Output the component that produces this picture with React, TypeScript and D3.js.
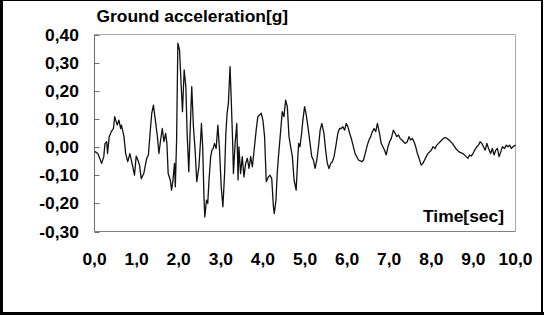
import { useMemo } from 'react'
import * as d3 from 'd3'

// ground acceleration record
const timeSec = [
  0.0, 0.02, 0.08, 0.17, 0.22, 0.25, 0.29, 0.31, 0.35, 0.4, 0.45, 0.48, 0.54, 0.58, 0.62, 0.64, 0.7, 0.74, 0.79, 0.84,
  0.91, 0.95, 0.99, 1.03, 1.07, 1.11, 1.17, 1.24, 1.28, 1.32, 1.36, 1.4, 1.44, 1.49, 1.53, 1.57, 1.61, 1.65, 1.69, 1.72,
  1.75, 1.8, 1.83, 1.86, 1.9, 1.92, 1.95, 1.98, 2.02, 2.06, 2.09, 2.13, 2.17, 2.2, 2.24, 2.27, 2.31, 2.35, 2.39, 2.43,
  2.48, 2.52, 2.54, 2.57, 2.6, 2.62, 2.66, 2.69, 2.72, 2.76, 2.79, 2.82, 2.85, 2.89, 2.93, 2.97, 3.01, 3.05, 3.09, 3.12,
  3.15, 3.18, 3.22, 3.24, 3.28, 3.3, 3.34, 3.38, 3.41, 3.43, 3.47, 3.51, 3.55, 3.59, 3.63, 3.67, 3.71, 3.75, 3.8, 3.84,
  3.88, 3.92, 3.96, 4.0, 4.04, 4.08, 4.13, 4.17, 4.21, 4.25, 4.27, 4.31, 4.34, 4.37, 4.41, 4.46, 4.5, 4.54, 4.58, 4.62,
  4.66, 4.7, 4.74, 4.79, 4.83, 4.85, 4.88, 4.92, 4.95, 4.99, 5.03, 5.07, 5.12, 5.16, 5.2, 5.24, 5.28, 5.32, 5.36, 5.4,
  5.45, 5.49, 5.53, 5.57, 5.61, 5.65, 5.69, 5.73, 5.78, 5.82, 5.86, 5.9, 5.94, 5.98, 6.02, 6.06, 6.11, 6.15, 6.19, 6.27,
  6.35, 6.39, 6.44, 6.48, 6.52, 6.56, 6.6, 6.64, 6.68, 6.72, 6.77, 6.81, 6.85, 6.89, 6.93, 6.97, 7.01, 7.05, 7.1, 7.14,
  7.18, 7.22, 7.26, 7.3, 7.34, 7.38, 7.43, 7.47, 7.51, 7.55, 7.59, 7.63, 7.67, 7.71, 7.76, 7.8, 7.84, 7.88, 7.92, 7.96,
  8.0, 8.04, 8.09, 8.13, 8.17, 8.21, 8.25, 8.29, 8.33, 8.37, 8.42, 8.5, 8.58, 8.66, 8.75, 8.83, 8.87, 8.91, 8.95, 8.99,
  9.03, 9.08, 9.12, 9.16, 9.2, 9.24, 9.28, 9.32, 9.36, 9.41, 9.45, 9.49, 9.53, 9.57, 9.61, 9.65, 9.69, 9.74, 9.78, 9.82,
  9.86, 9.9, 9.94, 10.0,
]
const accelG = [
  -0.015, -0.017, -0.023, -0.058, -0.034, 0.013, 0.019, -0.023, 0.037, 0.055, 0.066, 0.108, 0.078, 0.096, 0.066, 0.078, 0.037, -0.023, -0.052, -0.023,
  -0.07, -0.1, -0.032, -0.046, -0.064, -0.112, -0.094, -0.04, -0.028, 0.049, 0.12, 0.149, 0.102, 0.043, -0.023, 0.025, 0.066, 0.019, 0.049, 0.013,
  -0.094, -0.117, -0.153, -0.123, -0.058, -0.141, 0.025, 0.369, 0.345, 0.215, 0.126, 0.274, 0.215, 0.049, -0.088, 0.049, 0.215, 0.072, -0.011, -0.123,
  -0.07, 0.025, 0.084, 0.001, -0.177, -0.248, -0.189, -0.2, -0.117, -0.034, -0.011, -0.005, 0.013, -0.005, 0.078, -0.011, -0.141, -0.212, -0.094, 0.049,
  0.12, 0.155, 0.286, 0.203, 0.025, -0.094, 0.013, 0.084, -0.117, 0.001, -0.094, -0.034, -0.106, -0.058, -0.04, -0.076, -0.034, -0.07, 0.001, 0.06,
  0.108, 0.114, 0.12, 0.096, 0.037, -0.123, -0.106, -0.1, -0.112, -0.212, -0.236, -0.189, -0.094, -0.034, 0.037, 0.126, 0.108, 0.167, 0.144, 0.037,
  0.001, -0.034, -0.117, -0.153, -0.034, 0.013, 0.001, 0.049, 0.096, 0.144, 0.114, 0.072, 0.013, -0.034, -0.046, -0.076, -0.046, 0.001, 0.06, 0.084,
  0.049, -0.011, -0.058, -0.076, -0.058, -0.052, -0.034, 0.001, 0.049, 0.066, 0.066, 0.072, 0.06, 0.084, 0.072, 0.049, 0.025, 0.001, -0.023, -0.046,
  -0.052, -0.046, -0.017, 0.007, 0.025, 0.037, 0.055, 0.066, 0.055, 0.084, 0.049, 0.013, 0.001, -0.011, -0.028, 0.001, 0.019, 0.031, 0.06, 0.049,
  0.037, 0.043, 0.031, 0.025, 0.019, 0.013, 0.019, 0.037, 0.025, 0.031, 0.019, 0.001, -0.023, -0.04, -0.064, -0.058, -0.046, -0.034, -0.023, -0.017,
  -0.011, 0.001, -0.005, 0.007, 0.013, 0.019, 0.025, 0.031, 0.034, 0.031, 0.025, 0.013, -0.005, -0.017, -0.023, -0.034, -0.04, -0.028, -0.032, -0.023,
  -0.011, 0.001, 0.007, 0.019, 0.013, 0.001, -0.011, 0.013, -0.005, -0.023, -0.005, -0.028, -0.011, -0.005, -0.034, -0.017, 0.001, -0.005, 0.007, 0.001,
  0.007, -0.005, 0.001, 0.007,
]
const yTicks = [-0.3, -0.2, -0.1, 0.0, 0.1, 0.2, 0.3, 0.4]
const xTicks = [0, 1, 2, 3, 4, 5, 6, 7, 8, 9, 10]
const title = 'Ground acceleration[g]'
const xTitle = 'Time[sec]'

const W = 544
const H = 316
const FONT = '"Liberation Sans", Arial, sans-serif'
const FS = 16
const SX = 1.09 // reference text is a bit wider than it is tall

const loc = d3.formatLocale({ decimal: ',', thousands: '.', grouping: [3], currency: ['', ''], minus: '-' })
const fmtY = loc.format('.2f')
const fmtX = loc.format('.1f')

function Label({ x, y, anchor = 'start', children }: { x: number; y: number; anchor?: string; children: string }) {
  return (
    <text
      transform={`translate(${x},${y}) scale(${SX},1)`}
      textAnchor={anchor}
      fontFamily={FONT}
      fontSize={FS}
      fontWeight="bold"
      fill="#000"
    >
      {children}
    </text>
  )
}

export default function App() {
  const m = { left: 94.5, right: 515.5, top: 34.5, bottom: 231.5 }
  const x = d3.scaleLinear().domain([0, 10]).range([m.left, m.right])
  const y = d3.scaleLinear().domain([-0.3, 0.4]).range([m.bottom, m.top])

  const d = useMemo(() => {
    const pts = timeSec.map((t, i) => [t, accelG[i]] as [number, number])
    return d3
      .line<[number, number]>()
      .x((p) => x(p[0]))
      .y((p) => y(p[1]))(pts) as string
  }, [])

  return (
    <svg width={W} height={H} style={{ position: 'absolute', left: 0, top: 0, background: '#fff' }}>
      {/* outer chart border: thin top, heavier left / bottom */}
      <line x1={0} x2={543} y1={0.5} y2={0.5} stroke="#000" />
      <line x1={1.5} x2={1.5} y1={0} y2={315} stroke="#000" strokeWidth={3} />
      <line x1={0} x2={544} y1={313.5} y2={313.5} stroke="#000" strokeWidth={3} />
      <line x1={542} x2={542} y1={0} y2={315} stroke="#000" strokeWidth={2} />

      {/* plot frame */}
      <line x1={m.left} x2={m.right} y1={m.top} y2={m.top} stroke="#a8a8a8" />
      <line x1={m.right} x2={m.right} y1={m.top} y2={m.bottom} stroke="#a8a8a8" />
      <line x1={m.left} x2={m.right} y1={m.bottom} y2={m.bottom} stroke="#808080" />
      <line x1={m.left} x2={m.left} y1={m.top} y2={m.bottom} stroke="#6e6e6e" />

      {yTicks.map((v) => (
        <g key={v}>
          <line x1={m.left} x2={m.left + 5} y1={Math.round(y(v)) + 0.5} y2={Math.round(y(v)) + 0.5} stroke="#6e6e6e" />
          <Label x={79} y={y(v) + 6} anchor="end">{fmtY(v)}</Label>
        </g>
      ))}
      {xTicks.map((v) => (
        <Label key={v} x={x(v)} y={265} anchor="middle">
          {fmtX(v)}
        </Label>
      ))}

      <path d={d} fill="none" stroke="#111" strokeWidth={1.3} strokeLinejoin="round" />

      <Label x={96.5} y={22}>{title}</Label>
      <Label x={504} y={222} anchor="end">{xTitle}</Label>
    </svg>
  )
}
